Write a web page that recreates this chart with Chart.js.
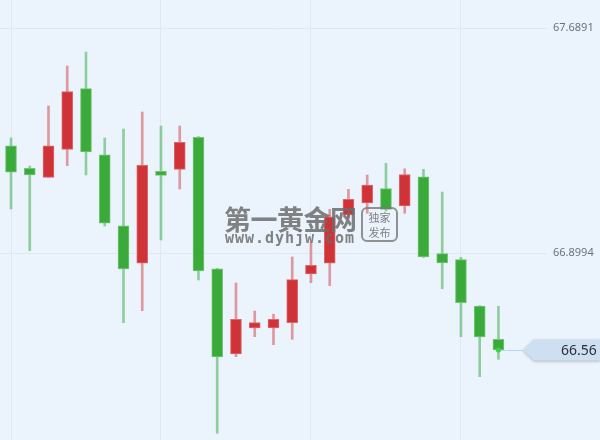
<!DOCTYPE html>
<html>
<head>
<meta charset="utf-8">
<script src="https://cdn.jsdelivr.net/npm/chart.js@4"></script>
<style>
  html, body { margin: 0; padding: 0; background: #ebf4fd; }
  #wrap { width: 600px; height: 440px; position: relative; }
</style>
</head>
<body>
<div id="wrap"><canvas id="kChart"></canvas></div>
<script>
// candle index along the time axis
const candles = [0,1,2,3,4,5,6,7,8,9,10,11,12,13,14,15,16,17,18,19,20,21,22,23,24,25,26];
const opens  = [67.2770,67.1977,67.1661,67.2644,67.4771,67.2454,66.9962,66.8643,67.1872,67.1942,67.3065,66.8453,66.5459,66.6372,66.6372,66.6558,66.8267,66.8643,67.0338,67.0759,67.1268,67.0654,67.1682,66.8980,66.8769,66.7144,66.5975];
const highs  = [67.3041,67.2058,67.4164,67.5568,67.6059,67.3041,67.3356,67.3953,67.3462,67.3462,67.3093,66.8467,66.7951,66.6969,66.6853,66.8864,66.9366,67.0538,67.1240,67.1742,67.2153,67.1960,67.1942,67.1145,66.8853,66.7155,66.7134];
const lows   = [67.0549,66.9085,67.1661,67.2068,67.1742,66.9952,66.6558,66.6979,66.9461,67.1251,66.8057,66.2676,66.5365,66.6067,66.5786,66.5975,66.7962,66.7857,67.0233,67.0398,67.0478,67.0398,66.8846,66.7751,66.6067,66.4663,66.5273];
const closes = [67.1837,67.1742,67.2770,67.4666,67.2549,67.0047,66.8443,67.2082,67.1731,67.2890,66.8372,66.5354,66.6677,66.6558,66.6677,66.8067,66.8573,67.0278,67.0889,67.1391,67.0538,67.1759,66.8864,66.8653,66.7260,66.6056,66.56];
const yTicks = [66.8994, 67.6891];
const xGrid = [0, 8, 16, 24];

const upBody = '#cf3337', upBorder = '#e2676b', upWick = 'rgba(214,90,98,0.6)';
const dnBody = '#3aaa3a', dnBorder = '#72c872', dnWick = 'rgba(80,180,95,0.6)';
const gridColor = '#dfe8f1';

function isUp(i){ return closes[i] >= opens[i]; }

function noPad(scale){
    scale.paddingTop = 0;
    scale.paddingBottom = 0;
    scale.paddingLeft = 0;
    scale.paddingRight = 0;
}

const bgPlugin = {
    id: 'bg',
    beforeDraw(chart){
        const c = chart.ctx;
        c.save();
        c.fillStyle = '#ebf4fd';
        c.fillRect(0, 0, chart.width, chart.height);
        c.restore();
    }
};

const watermark = {
    id: 'watermark',
    afterDatasetsDraw(chart){
        const c = chart.ctx;
        c.save();
        c.fillStyle = 'rgba(108,108,108,0.85)';
        c.textBaseline = 'alphabetic';
        c.font = 'bold 27px "Noto Sans CJK SC"';
        const big = '第一黄金网';
        let x = 224;
        for(const ch of big){
            c.fillText(ch, x, 230);
            x += 26.5;
        }
        c.font = 'bold 15px "DejaVu Sans Mono"';
        const url = 'www.dyhjw.com';
        x = 225;
        for(const ch of url){
            c.fillText(ch, x, 243);
            x += 10;
        }
        // stamp box
        c.strokeStyle = 'rgba(120,120,120,0.8)';
        c.lineWidth = 2;
        c.beginPath();
        c.roundRect(362, 208, 35, 33, 5);
        c.stroke();
        c.font = '11px "Noto Sans CJK SC"';
        c.textAlign = 'center';
        c.fillText('独家', 379.5, 222);
        c.fillText('发布', 379.5, 237);
        c.restore();
    }
};

const priceTag = {
    id: 'priceTag',
    afterDraw(chart){
        const c = chart.ctx;
        const last = closes.length - 1;
        const y = chart.scales.y.getPixelForValue(closes[last]);
        const x0 = chart.scales.x.getPixelForValue(candles[last]);
        c.save();
        c.strokeStyle = '#bcd4ec';
        c.lineWidth = 1;
        c.beginPath();
        c.moveTo(x0, y + 0.5);
        c.lineTo(523, y + 0.5);
        c.stroke();
        c.shadowColor = 'rgba(0,0,0,0.25)';
        c.shadowBlur = 3;
        c.shadowOffsetY = 1;
        c.fillStyle = '#cfdff2';
        c.beginPath();
        c.moveTo(523, y);
        c.lineTo(534, y - 10.5);
        c.lineTo(600, y - 10.5);
        c.lineTo(600, y + 10.5);
        c.lineTo(534, y + 10.5);
        c.closePath();
        c.fill();
        c.shadowColor = 'transparent';
        c.fillStyle = '#2b2f36';
        c.font = '14px "Noto Sans"';
        c.textAlign = 'left';
        c.textBaseline = 'middle';
        c.fillText(closes[last].toFixed(2), 561, y + 1);
        c.fillStyle = '#44d044';
        c.beginPath();
        c.arc(x0, y, 2.5, 0, Math.PI * 2);
        c.fill();
        c.restore();
    }
};

const ctx = document.getElementById('kChart').getContext('2d');
new Chart(ctx, {
    type: 'bar',
    data: {
        datasets: [{
            label: 'wick',
            data: candles.map(i => ({x: i, y: [lows[i], highs[i]]})),
            backgroundColor: candles.map(i => isUp(i) ? upWick : dnWick),
            borderWidth: 0,
            barThickness: 2,
            grouped: false,
            order: 2
        }, {
            label: 'body',
            data: candles.map(i => ({x: i, y: [opens[i], closes[i]]})),
            backgroundColor: candles.map(i => isUp(i) ? upBody : dnBody),
            borderColor: candles.map(i => isUp(i) ? upBorder : dnBorder),
            borderWidth: 1,
            borderSkipped: false,
            barThickness: 11,
            grouped: false,
            order: 1
        }]
    },
    options: {
        responsive: true,
        maintainAspectRatio: false,
        animation: false,
        layout: { padding: 0 },
        plugins: { legend: { display: false }, tooltip: { enabled: false } },
        scales: {
            x: {
                type: 'linear',
                offset: false,
                min: -0.587,
                max: 28.59,
                afterBuildTicks: scale => { scale.ticks = xGrid.map(v => ({value: v})); },
                afterFit: scale => { scale.height = 0; noPad(scale); },
                ticks: { display: false },
                grid: { color: gridColor, drawTicks: false, offset: false },
                border: { display: false }
            },
            y: {
                position: 'right',
                min: 66.2441,
                max: 67.7884,
                afterBuildTicks: scale => { scale.ticks = yTicks.map(v => ({value: v})); },
                afterFit: scale => { scale.width = 53; noPad(scale); },
                ticks: {
                    padding: 6,
                    color: '#6a717c',
                    font: { family: 'Noto Sans', size: 11 },
                    callback: v => v.toFixed(4)
                },
                grid: { color: gridColor, drawTicks: false },
                border: { display: false }
            }
        }
    },
    plugins: [bgPlugin, watermark, priceTag]
});
</script>
</body>
</html>
